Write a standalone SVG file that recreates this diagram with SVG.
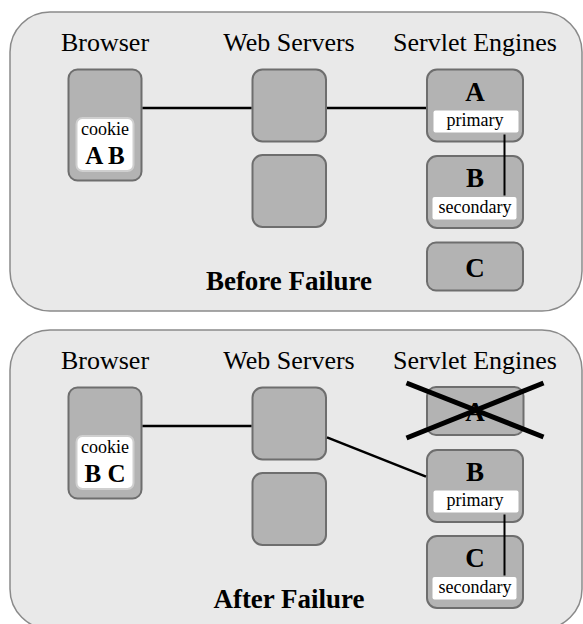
<svg xmlns="http://www.w3.org/2000/svg" width="583" height="624" viewBox="0 0 583 624">
<style>
.panel{fill:#e9e9e9;stroke:#8a8a8a;stroke-width:1.5}
.node{fill:#b3b3b3;stroke:#6e6e6e;stroke-width:2}
.cookie{fill:#ffffff;stroke:#cfcfcf;stroke-width:2}
.lbl{fill:#ffffff}
text{font-family:"Liberation Serif","Times New Roman",serif;fill:#000;text-anchor:middle}
.head{font-size:26px}
.big{font-size:27px;font-weight:bold}
.ck{font-size:25px;font-weight:bold}
.small{font-size:18px}
.conn{stroke:#000;stroke-width:2.5;fill:none}
.thin{stroke:#000;stroke-width:2;fill:none}
.cross{stroke:#000;stroke-width:5;fill:none}
</style>

<!-- Top panel: Before Failure -->
<g id="panel-before">
  <rect class="panel" x="10" y="12" width="572" height="299" rx="40"/>
  <text class="head" x="105" y="51">Browser</text>
  <text class="head" x="289" y="51">Web Servers</text>
  <text class="head" x="475" y="51">Servlet Engines</text>
  <text class="big" x="289" y="290">Before Failure</text>
</g>
<g id="browser-before">
  <rect class="node" x="68.5" y="69.5" width="73" height="111" rx="9"/>
  <rect class="cookie" x="76.5" y="118" width="57" height="53" rx="6"/>
  <text class="small" x="105" y="134.5">cookie</text>
  <text class="ck" x="105" y="164">A B</text>
</g>
<g id="ws1-before">
  <rect class="node" x="252.5" y="69.5" width="73.5" height="72" rx="10"/>
</g>
<g id="ws2-before">
  <rect class="node" x="252.5" y="155" width="73.5" height="72" rx="10"/>
</g>
<g id="seA-before">
  <rect class="node" x="427" y="69.5" width="96" height="72" rx="10"/>
  <text class="big" x="475" y="100.5">A</text>
  <rect class="lbl" x="433.5" y="110.5" width="85" height="22" rx="2"/>
  <text class="small" x="475" y="125.5">primary</text>
</g>
<g id="seB-before">
  <rect class="node" x="427" y="156" width="96" height="72" rx="10"/>
  <text class="big" x="475" y="187">B</text>
  <rect class="lbl" x="432.5" y="197" width="84" height="22.5" rx="2"/>
  <text class="small" x="475" y="212.5">secondary</text>
</g>
<g id="seC-before">
  <rect class="node" x="427" y="242.5" width="96" height="48" rx="9"/>
  <text class="big" x="475" y="276.5">C</text>
</g>
<g id="connectors-before">
  <line class="conn" x1="142.5" y1="108" x2="251.5" y2="108"/>
  <line class="conn" x1="327" y1="108" x2="426" y2="108"/>
  <line class="thin" x1="504.5" y1="134.5" x2="504.5" y2="195.5"/>
</g>

<!-- Bottom panel: After Failure -->
<g id="panel-after">
  <rect class="panel" x="10" y="330" width="572" height="299" rx="40"/>
  <text class="head" x="105" y="369">Browser</text>
  <text class="head" x="289" y="369">Web Servers</text>
  <text class="head" x="475" y="369">Servlet Engines</text>
  <text class="big" x="289" y="608">After Failure</text>
</g>
<g id="browser-after">
  <rect class="node" x="68.5" y="387.5" width="73" height="111" rx="9"/>
  <rect class="cookie" x="76.5" y="436" width="57" height="53" rx="6"/>
  <text class="small" x="105" y="452.5">cookie</text>
  <text class="ck" x="105" y="482">B C</text>
</g>
<g id="ws1-after">
  <rect class="node" x="252.5" y="387.5" width="73.5" height="72" rx="10"/>
</g>
<g id="ws2-after">
  <rect class="node" x="252.5" y="473" width="73.5" height="72" rx="10"/>
</g>
<g id="seA-after">
  <rect class="node" x="427" y="387" width="96.5" height="48" rx="9"/>
  <text class="big" x="475" y="421">A</text>
  <line class="cross" x1="406.5" y1="383" x2="543.5" y2="437"/>
  <line class="cross" x1="406.5" y1="438" x2="543.5" y2="383"/>
</g>
<g id="seB-after">
  <rect class="node" x="427" y="450" width="96" height="72" rx="10"/>
  <text class="big" x="475" y="481">B</text>
  <rect class="lbl" x="433.5" y="490.5" width="85" height="22" rx="2"/>
  <text class="small" x="475" y="505.5">primary</text>
</g>
<g id="seC-after">
  <rect class="node" x="427" y="536" width="96" height="72" rx="10"/>
  <text class="big" x="475" y="567">C</text>
  <rect class="lbl" x="432.5" y="577" width="84" height="22.5" rx="2"/>
  <text class="small" x="475" y="592.5">secondary</text>
</g>
<g id="connectors-after">
  <line class="conn" x1="142.5" y1="426" x2="251.5" y2="426"/>
  <line class="conn" x1="327" y1="437.4" x2="426" y2="476.6"/>
  <line class="thin" x1="504.5" y1="514.5" x2="504.5" y2="575.5"/>
</g>
</svg>
